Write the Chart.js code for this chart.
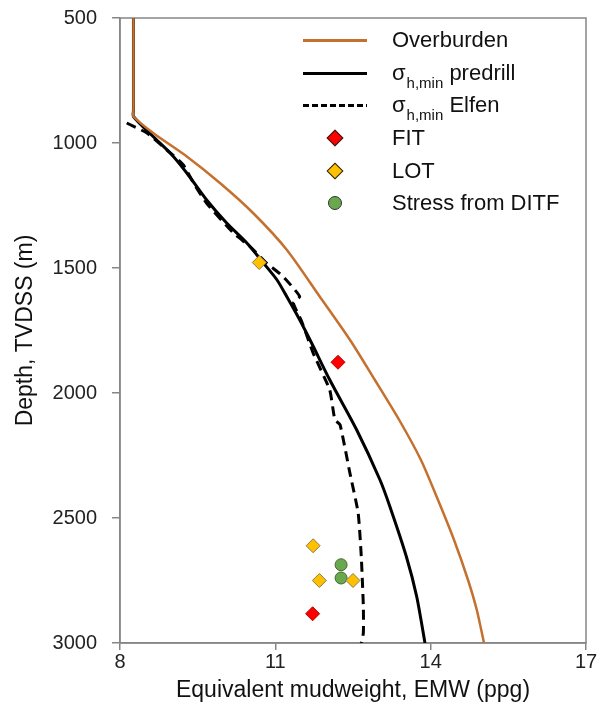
<!DOCTYPE html>
<html>
<head>
<meta charset="utf-8">
<script src="https://cdn.jsdelivr.net/npm/chart.js@4/dist/chart.umd.min.js"></script>
<style>
  body { margin: 0; background: #fff; }
  #wrap { position: relative; width: 598px; height: 720px; }
  #legend { position: absolute; left: 303px; top: 24px; font-family: "Liberation Sans", Arial, sans-serif; font-size: 22px; color: #111; }
  .row { height: 32.6px; display: flex; align-items: center; white-space: nowrap; }
  .sw { width: 64px; height: 20px; position: relative; margin-right: 25px; }
  .sw .ln { position: absolute; left: 0; right: 0; top: 9px; }
  .sw .mk { position: absolute; left: 50%; top: 50%; }
  sub { font-size: 15px; vertical-align: -8px; line-height: 0; margin-left: 1px; }
</style>
</head>
<body>
<div id="wrap">
  <canvas id="graphCanvas" width="598" height="720"></canvas>
  <div id="legend"></div>
</div>
<script>
// x ticks / y ticks
let emwTicks = [8, 11, 14, 17];
let depthTicks = [500, 1000, 1500, 2000, 2500, 3000];

// Overburden
let obEmw   = [8.26, 8.26, 8.26, 8.64, 9.29, 9.93, 10.57, 11.22, 11.86, 12.44, 12.92, 13.39, 13.81, 14.14, 14.45, 14.72, 14.89, 15.03];
let obDepth = [500, 870, 894, 960, 1054, 1160, 1280, 1427, 1615, 1787, 1947, 2107, 2267, 2427, 2587, 2747, 2867, 3000];

// sigma h,min predrill
let preEmw   = [8.26, 8.26, 8.26, 8.64, 8.97, 9.29, 9.67, 10.06, 10.45, 10.77, 11.03, 11.22, 11.47, 11.70, 12.05, 12.57, 13.02, 13.21, 13.53, 13.73, 13.89];
let preDepth = [500, 870, 894, 974, 1040, 1120, 1227, 1320, 1400, 1480, 1547, 1614, 1707, 1800, 1947, 2147, 2347, 2453, 2654, 2814, 3000];

// sigma h,min Elfen
let elfEmw   = [8.13, 8.52, 8.90, 9.22, 9.42, 9.67, 10.19, 10.51, 10.83, 11.15, 11.47, 11.35, 11.51, 11.73, 12.05, 12.15, 12.25, 12.44, 12.60, 12.66, 12.70, 12.70, 12.66];
let elfDepth = [920, 960, 1027, 1087, 1160, 1240, 1360, 1414, 1480, 1534, 1614, 1640, 1714, 1840, 1987, 2107, 2127, 2320, 2480, 2654, 2854, 2960, 3000];

// measurements
let fitEmw = [12.21, 11.72];
let fitDepth = [1877, 2883];
let lotEmw = [10.69, 11.73, 11.85, 12.50];
let lotDepth = [1478, 2611, 2750, 2750];
let ditfEmw = [12.27, 12.27];
let ditfDepth = [2687, 2740];

function pts(xs, ys) {
  let out = [];
  for (let i in xs) out.push({x: xs[i], y: ys[i]});
  return out;
}

let fontName = '"Liberation Sans", Arial, sans-serif';
let axisGray = '#868686';

let chartdata = {
  datasets: [{
    label: 'FIT',
    data: pts(fitEmw, fitDepth),
    pointStyle: 'rectRot',
    pointRadius: 7,
    backgroundColor: '#FF0000',
    borderColor: '#B00000',
    borderWidth: 1,
    order: 0
  }, {
    label: 'LOT',
    data: pts(lotEmw, lotDepth),
    pointStyle: 'rectRot',
    pointRadius: 7,
    backgroundColor: '#FFC000',
    borderColor: '#8C7A4A',
    borderWidth: 1,
    order: 0
  }, {
    label: 'Stress from DITF',
    data: pts(ditfEmw, ditfDepth),
    pointStyle: 'circle',
    pointRadius: 6,
    backgroundColor: '#6AA84F',
    borderColor: '#3F6B2C',
    borderWidth: 1,
    order: 0
  }, {
    label: 'Overburden',
    data: pts(obEmw, obDepth),
    showLine: true,
    tension: 0.25,
    pointRadius: 0,
    borderColor: '#C4702F',
    backgroundColor: '#C4702F',
    borderWidth: 2.5,
    order: 1
  }, {
    label: 'σh,min predrill',
    data: pts(preEmw, preDepth),
    showLine: true,
    tension: 0.25,
    pointRadius: 0,
    borderColor: '#000000',
    backgroundColor: '#000000',
    borderWidth: 3,
    order: 1
  }, {
    label: 'σh,min Elfen',
    data: pts(elfEmw, elfDepth),
    showLine: true,
    tension: 0.15,
    pointRadius: 0,
    borderColor: '#000000',
    backgroundColor: '#000000',
    borderWidth: 3,
    borderDash: [10, 6],
    order: 1
  }]
};

// frame round the plot area (top + right edges like the original)
let framePlugin = {
  id: 'frame',
  beforeDatasetsDraw(chart) {
    let a = chart.chartArea;
    let ctx = chart.ctx;
    ctx.save();
    ctx.strokeStyle = axisGray;
    ctx.lineWidth = 1.5;
    ctx.strokeRect(a.left, a.top, a.right - a.left, a.bottom - a.top);
    ctx.restore();
  }
};

let graphTarget = document.getElementById('graphCanvas');
let scatterGraph = new Chart(graphTarget, {
  type: 'scatter',
  data: chartdata,
  plugins: [framePlugin],
  options: {
    responsive: false,
    animation: false,
    layout: { padding: { top: 18, right: 12, left: 0, bottom: 0 } },
    plugins: { legend: { display: false }, tooltip: { enabled: false } },
    scales: {
      x: {
        type: 'linear',
        min: 8, max: 17,
        afterBuildTicks: function(axis) { axis.ticks = emwTicks.map(v => ({value: v})); },
        afterFit: function(axis) { axis.height = 77; axis.paddingLeft = 0; axis.paddingRight = 0; },
        grid: { drawOnChartArea: false, drawTicks: true, tickLength: 7, color: axisGray, lineWidth: 1.5 },
        border: { color: axisGray, width: 1.5 },
        ticks: { font: { family: fontName, size: 20 }, color: '#222', padding: 0, maxRotation: 0,
                 callback: function(v) { return String(v); } },
        title: { display: true, text: 'Equivalent mudweight, EMW (ppg)', font: { family: fontName, size: 23 }, color: '#111', padding: { top: 0, bottom: 16 } }
      },
      y: {
        type: 'linear',
        reverse: true,
        min: 500, max: 3000,
        afterBuildTicks: function(axis) { axis.ticks = depthTicks.map(v => ({value: v})); },
        afterFit: function(axis) { axis.width = 120; axis.paddingTop = 0; axis.paddingBottom = 0; },
        grid: { drawOnChartArea: false, drawTicks: true, tickLength: 8, color: axisGray, lineWidth: 1.5 },
        border: { color: axisGray, width: 1.5 },
        ticks: { font: { family: fontName, size: 20 }, color: '#222', padding: 15,
                 callback: function(v) { return String(v); } },
        title: { display: true, text: 'Depth, TVDSS (m)', font: { family: fontName, size: 23 }, color: '#111', padding: { top: 12, bottom: 0 } }
      }
    }
  }
});

// html legend (needs subscripts)
let legendOrder = ['Overburden', 'σh,min predrill', 'σh,min Elfen', 'FIT', 'LOT', 'Stress from DITF'];
let legendBox = document.getElementById('legend');
legendOrder.forEach(function(name) {
  let ds = chartdata.datasets.find(d => d.label === name);
  let sw = '';
  if (ds.showLine) {
    let style = 'height:' + ds.borderWidth + 'px;background:' + ds.borderColor + ';';
    if (ds.borderDash) {
      style = 'height:3px;background:repeating-linear-gradient(to right,' + ds.borderColor + ' 0 6px,transparent 6px 9px);';
    }
    sw = '<div class="ln" style="' + style + '"></div>';
  } else if (ds.pointStyle === 'rectRot') {
    sw = '<div class="mk" style="width:10px;height:10px;margin:-6px 0 0 -6px;transform:rotate(45deg);background:' + ds.backgroundColor + ';border:1px solid #222;"></div>';
  } else {
    sw = '<div class="mk" style="width:12px;height:12px;margin:-7px 0 0 -7px;border-radius:50%;background:' + ds.backgroundColor + ';border:1px solid #333;"></div>';
  }
  let txt = name.replace('σh,min', 'σ<sub>h,min</sub>');
  legendBox.insertAdjacentHTML('beforeend', '<div class="row"><div class="sw">' + sw + '</div><span>' + txt + '</span></div>');
});
</script>
</body>
</html>
